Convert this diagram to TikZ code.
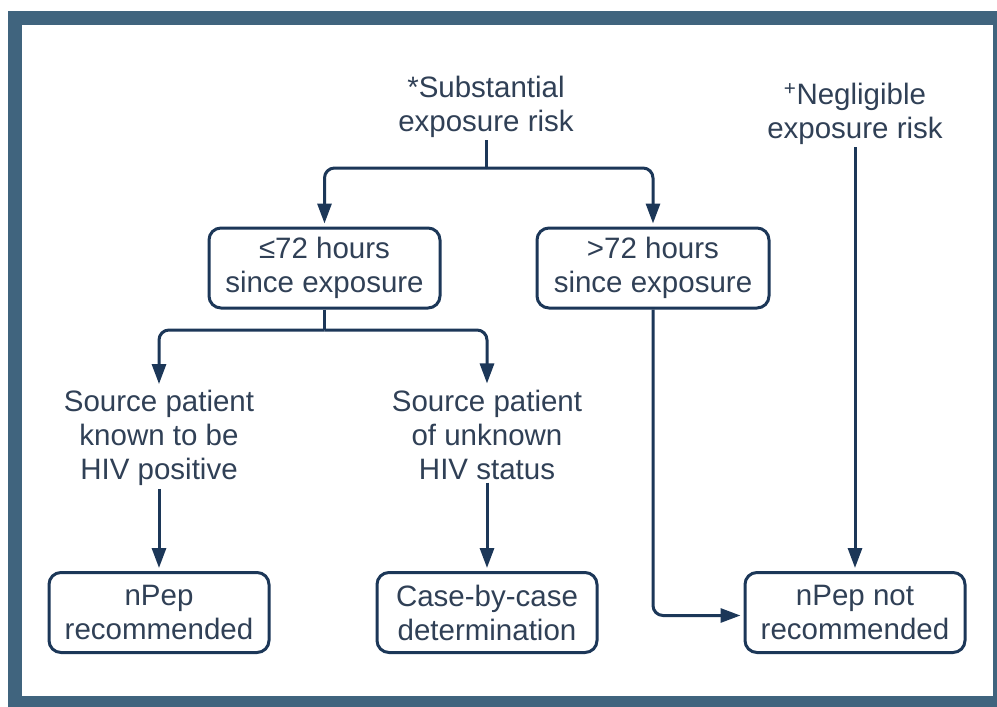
\documentclass[tikz,border=0pt]{standalone}
\usepackage{fontspec}
\setmainfont{Liberation Sans}
\usetikzlibrary{arrows.meta,positioning}
\definecolor{framecol}{RGB}{64,100,126}
\definecolor{ink}{RGB}{28,55,88}
\definecolor{txt}{RGB}{48,64,86}

\begin{document}
\begin{tikzpicture}[
            x=1pt, y=-1pt,
            font=\fontsize{29.5}{34}\selectfont,
            box/.style={rectangle, rounded corners=12pt, draw=ink, line width=3pt,
                                        minimum height=80pt, inner sep=0pt},
            lbl/.style={inner sep=3pt},
            link/.style={draw=ink, line width=3pt, rounded corners=10pt},
            flow/.style={link, -{Triangle[length=20pt,width=14pt]}, shorten >=3pt},
            every node/.style={align=center, text=txt}
        ]

        % Frame
        \useasboundingbox (0,0) rectangle (997,707);
        \fill[framecol] (8,11) rectangle (997,707);
        \fill[white] (22,25) rectangle (993,696);

        % Exposure risk
        \node[lbl] (sub) at (486,106.5) {*Substantial\\exposure risk};
        \node[lbl] (neg) at (855,113.5) {\textsuperscript{+}Negligible\\exposure risk};

        % Time since exposure
        \node[box, minimum width=231pt] (early) at (324.5,268)
            {≤72 hours\\since exposure};
        \node[box, minimum width=232pt, right=94pt of early] (late)
            {>72 hours\\since exposure};

        % Source patient
        \node[lbl] (knownsrc) at (159,438) {Source patient\\known to be\\HIV positive};
        \node[lbl] (unknownsrc) at (487,434.5) {Source patient\\of unknown\\HIV status};

        % Outcomes
        \node[box, minimum width=220pt] (rec) at (159,612.5) {nPep\\recommended};
        \node[box, minimum width=220pt, right=105pt of rec] (casebycase)
            {Case-by-case\\determination};
        \node[box, minimum width=220pt, right=145pt of casebycase] (notrec)
            {nPep not\\recommended};

        % Connections
        \coordinate (split1) at (486,168);
        \coordinate (split2) at (early.south |- 0,330);
        \draw[link] (sub.south) -- (split1);
        \draw[flow] (split1) -| (early.north);
        \draw[flow] (split1) -| (late.north);
        \draw[link] (early.south) -- (split2);
        \draw[flow] (split2) -| (knownsrc.north);
        \draw[flow] (split2) -| (unknownsrc.north);
        \draw[flow] (knownsrc.south) -- (knownsrc.south |- rec.north);
        \draw[flow] (unknownsrc.south) -- (unknownsrc.south |- casebycase.north);
        \draw[flow] (neg.south) -- (neg.south |- notrec.north);
        \draw[flow] (late.south) |- ([yshift=-3pt]notrec.west);

        \end{tikzpicture}
\end{document}
